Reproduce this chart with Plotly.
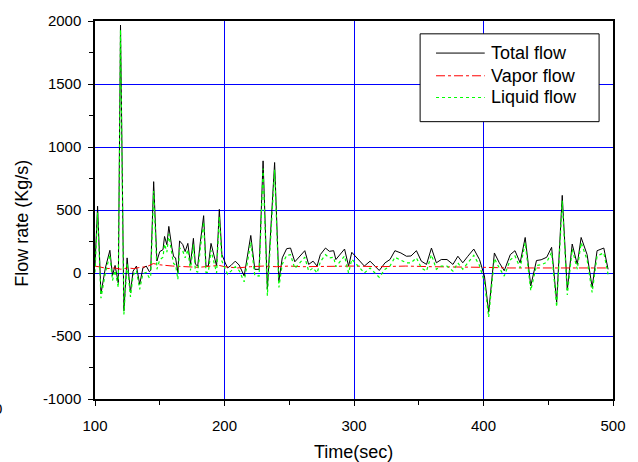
import plotly.graph_objects as go

# ---- data ----
time_total = [100, 102, 104.6, 108, 111.5, 113.5, 115.5, 118, 119.7, 122.3, 124.8, 127.4, 129.4, 132,
              134.5, 137, 139.6, 142, 143, 145.3, 147.8, 150, 152.5, 153.7, 155.5, 157, 159.4, 160.7,
              162.2, 164, 165.3, 167.8, 169.6, 171.7, 173.7, 176, 177.5, 179.3, 181.4, 183.9, 185.7,
              187.5, 189.6, 192, 193.9, 196, 198, 200.6, 202.4, 205, 208.3, 211.3, 215.2, 220.3, 223.4,
              226.7, 229.8, 233.1, 238.7, 242, 244.6, 248, 251, 254.3, 262, 265, 268.4, 271.5, 274, 278,
              281, 284.3, 286, 292.7, 295.8, 298.3, 302, 308, 312.4, 319.5, 324, 327.8, 331.6, 336.2,
              340.5, 344, 348.2, 352, 356, 359.8, 363.6, 367.4, 371.8, 376.4, 380.2, 384, 387.9, 392.5,
              396.9, 399.4, 400.7, 404, 408.4, 412.2, 416, 420.7, 424.3, 428.3, 432.2, 436.5, 440.9,
              444.5, 448.8, 452.6, 456.5, 460.8, 464.7, 468.5, 472.4, 475.4, 480, 483.9, 487.7, 492.9,
              496.2]

total_flow = [60, 530, -165, 40, 180, -20, 60, -80, 1968, -300, 120, -155, 15, 55,
              -90, 40, 55, 10, 20, 725, 95, 170, 185, 290, 225, 370, 200, 130,
              120, 3, 255, 225, 170, 235, 70, 275, 70, 55, 250, 455, 55,
              55, 235, 145, 55, 505, 146, 80, 40, 60, 94, 63, -23, 298, 29,
              29, 890, -128, 877, -63, 120, 193, 198, 89, 177, 68, 94, 55, 146, 198,
              172, 177, 107, 190, 55, 164, 120, 55, 94, 20, 81, 107, 177, 159,
              133, 135, 177, 94, 68, 198, 81, 107, 107, 68, 133, 81, 133, 190,
              107, 29, -23, -311, 159, 81, 18, 146, 177, 81, 282, -102, 99,
              105, 125, 204, -232, 616, -136, 230, 68, 282, 146, -115, 177, 198,
              29]

liquid_flow = [5, 480, -200, 0, 145, -60, 20, -115, 1930, -330, 80, -190, -20, 20,
               -130, -5, 5, -40, -30, 650, 30, 105, 125, 230, 165, 310, 145, 75,
               65, -50, 200, 175, 120, 185, 20, 225, 20, 5, 200, 405, 5,
               5, 180, 90, 0, 450, 95, 30, -10, 15, 50, 20, -70, 245, -20,
               -25, 830, -180, 820, -115, 70, 140, 145, 35, 125, 15, 40, 0, 90, 145,
               120, 125, 50, 135, 0, 110, 65, 0, 40, -35, 30, 55, 125, 105,
               80, 80, 120, 40, 15, 145, 30, 55, 55, 15, 80, 30, 85, 140,
               60, -20, -70, -350, 115, 40, -25, 105, 135, 40, 240, -140, 60,
               65, 85, 165, -270, 575, -175, 190, 30, 240, 105, -155, 135, 160,
               -10]

time_vapor = [100, 105, 110, 115, 120, 125, 130, 135, 140, 145, 150, 160, 170, 180, 190, 196,
              200, 210, 220, 230, 240, 250, 260, 280, 300, 320, 340, 360, 380, 400, 420,
              440, 460, 480, 496]
vapor_flow = [55, 45, 35, 40, 30, 40, 35, 45, 50, 75, 65, 55, 50, 45, 55, 60,
              50, 40, 50, 55, 50, 55, 50, 55, 55, 50, 55, 50, 50, 45, 40,
              40, 40, 40, 40]

legend_names = ["Total flow", "Vapor flow", "Liquid flow"]
x_title = "Time(sec)"
y_title = "Flow rate (Kg/s)"

x_tick_vals = [100, 200, 300, 400, 500]
x_tick_text = ["100", "200", "300", "400", "500"]
y_tick_vals = [-1000, -500, 0, 500, 1000, 1500, 2000]
y_tick_text = ["-1000", "-500", "0", "500", "1000", "1500", "2000"]

# ---- figure ----
FONT = "Liberation Sans, Arial, sans-serif"
W, H = 638, 462
ML, MR, MT, MB = 95, 22, 16, 63
PW, PH = W - ML - MR, H - MT - MB
GRID = "#0000ff"
RED = "#ff0000"
GREEN = "#00ff00"


def px2paper(px, py):
    return (px - ML) / PW, (H - MB - py) / PH


fig = go.Figure()
fig.add_trace(go.Scatter(x=time_total, y=total_flow, mode="lines", name=legend_names[0],
                         line=dict(color="black", width=1)))
fig.add_trace(go.Scatter(x=time_vapor, y=vapor_flow, mode="lines", name=legend_names[1],
                         line=dict(color=RED, width=1, dash="dashdot")))
fig.add_trace(go.Scatter(x=time_total, y=liquid_flow, mode="lines", name=legend_names[2],
                         line=dict(color=GREEN, width=1.2, dash="dot")))

axis_common = dict(
    showgrid=True, gridcolor=GRID, gridwidth=1,
    zeroline=False,
    showline=True, linecolor="black", linewidth=1.5, mirror=True,
    ticks="outside", ticklen=5, tickwidth=1, tickcolor="black",
    tickfont=dict(family=FONT, size=15, color="black"),
    tickmode="array",
)

fig.update_layout(
    width=W, height=H,
    margin=dict(l=ML, r=MR, t=MT, b=MB),
    paper_bgcolor="white", plot_bgcolor="white",
    showlegend=False,
    font=dict(family=FONT, color="black"),
    xaxis=dict(range=[100, 500], tickvals=x_tick_vals, ticktext=x_tick_text,
               ticklabelstandoff=7,
               minor=dict(tickvals=[150, 250, 350, 450], ticks="outside", ticklen=4,
                          tickcolor="black", showgrid=False),
               **axis_common),
    yaxis=dict(range=[-1000, 2000], tickvals=y_tick_vals, ticktext=y_tick_text,
               ticklabelstandoff=4,
               minor=dict(tickvals=[-750, -250, 250, 750, 1250, 1750], ticks="outside", ticklen=4,
                          tickcolor="black", showgrid=False),
               **axis_common),
)

# axis titles (placed as in the reference)
ax_x, ax_y = px2paper(355, 453)
fig.add_annotation(xref="paper", yref="paper", x=ax_x, y=ax_y, text=x_title, showarrow=False,
                   xanchor="center", yanchor="middle", font=dict(family=FONT, size=18, color="black"))
ay_x, ay_y = px2paper(22, 221)
fig.add_annotation(xref="paper", yref="paper", x=ay_x, y=ay_y, text=y_title, showarrow=False,
                   textangle=-90, xanchor="center", yanchor="middle",
                   font=dict(family=FONT, size=18, color="black"))

# manual legend box (matches reference's wide legend)
bx0, by0 = px2paper(422, 118)
bx1, by1 = px2paper(602, 29)
fig.add_shape(type="rect", xref="paper", yref="paper", x0=bx0, y0=by0, x1=bx1, y1=by1,
              line=dict(color="black", width=1), fillcolor="white", layer="above")
row_py = [48.5, 71.5, 93.5]
styles = [dict(color="black", width=1), dict(color=RED, width=1, dash="dashdot"),
          dict(color=GREEN, width=1.2, dash="dot")]
for name, py, st in zip(legend_names, row_py, styles):
    lx0, ly = px2paper(438, py)
    lx1, _ = px2paper(487, py)
    fig.add_shape(type="line", xref="paper", yref="paper", x0=lx0, y0=ly, x1=lx1, y1=ly,
                  line=st, layer="above")
    tx, _ = px2paper(491, py)
    fig.add_annotation(xref="paper", yref="paper", x=tx, y=ly, text=name, showarrow=False,
                       xanchor="left", yanchor="middle", font=dict(family=FONT, size=18, color="black"))

# stray clipped label at the far left of the reference
sx, sy = px2paper(3, 409)
fig.add_annotation(xref="paper", yref="paper", x=sx, y=sy, text="0", showarrow=False,
                   xanchor="right", yanchor="middle", font=dict(family=FONT, size=15, color="black"))

fig.write_html("out.html")
